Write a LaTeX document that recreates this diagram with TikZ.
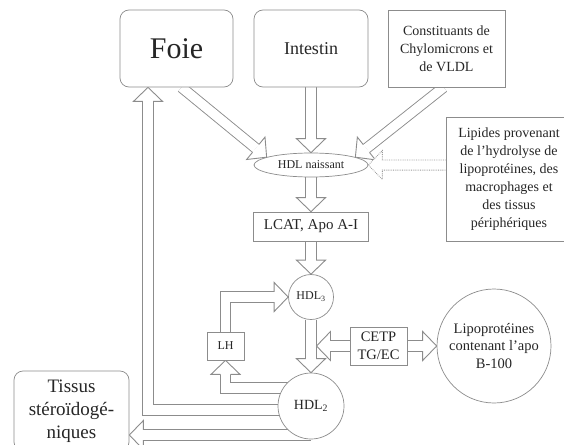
\documentclass[tikz,border=0pt]{standalone}
\usepackage{fontspec}
\setmainfont{Liberation Serif}
\usetikzlibrary{calc,positioning,shapes.geometric,backgrounds}

\tikzset{
  box/.style={draw=black!45,line width=0.7pt,fill=white,align=center,inner sep=0pt,text=black!85},
  rbox/.style={box,rounded corners=9pt},
  flowshaft/.style={draw=black!45,line width=0.9pt,double=white,double distance=9.3pt,line join=miter},
  flowline/.style={draw=black!45,line width=0.9pt,line join=miter},
  flowdots/.style={draw=black!40,line width=0.8pt,densely dotted,fill=white},
}
\newcommand{\fsz}[2]{\fontsize{#1}{#2}\selectfont}
% hollow block arrows: head from base #1 to tip #2
\newcommand{\flowhead}[2]{%
  \filldraw[flowline,fill=white] ($(#1)!5.1pt!90:(#2)$) -- ($(#1)!14.5pt!90:(#2)$) -- (#2)
    -- ($(#1)!14.5pt!-90:(#2)$) -- ($(#1)!5.1pt!-90:(#2)$);}
\newcommand{\flow}[2]{%
  \coordinate (fb) at ($(#2)!14pt!(#1)$);
  \draw[flowshaft] (#1) -- (fb);
  \flowhead{fb}{#2}}
\newcommand{\flowbent}[3]{%
  \coordinate (fb) at ($(#3)!14pt!(#2)$);
  \draw[flowshaft] (#1) -- (#2) -- (fb);
  \flowhead{fb}{#3}}

\begin{document}
\begin{tikzpicture}[x=1pt,y=-1pt]
  \useasboundingbox (0,0) rectangle (564,444);
  % sources
  \node[rbox,minimum width=113pt,minimum height=77pt,font=\fsz{30}{30}] (foie) at (176.5,48.5) {Foie};
  \node[rbox,minimum width=114pt,minimum height=77pt,font=\fsz{18}{20}] (intestin) at (311,48.5) {Intestin};
  \node[box,minimum width=117pt,minimum height=77pt,font=\fsz{14}{18}] (chylo) at (446.5,48.5) {Constituants de\\Chylomicrons et\\de VLDL};
  \node[box,minimum width=126pt,minimum height=124pt,font=\fsz{14}{18}] (lip) at (509,179) {Lipides provenant\\de l'hydrolyse de\\lipoprotéines, des\\macrophages et\\des tissus\\périphériques};
  % HDL chain
  \node[box,ellipse,minimum width=114pt,minimum height=24pt,font=\fsz{12}{14}] (hdln) at (311,165) {HDL naissant};
  \node[box,minimum width=115pt,minimum height=29pt,font=\fsz{15}{17}] (lcat) at (311,226.5) {LCAT, Apo A-I};
  \node[box,circle,minimum size=45pt,font=\fsz{12}{14}] (hdl3) at (311,297) {HDL\textsubscript{3}};
  \node[box,circle,minimum size=66pt,font=\fsz{14}{16}] (hdl2) at (311,406) {HDL\textsubscript{2}};
  \node[box,minimum width=37pt,minimum height=28pt,font=\fsz{12}{14}] (lh) at (225.5,346) {LH};
  \node[box,minimum width=57pt,minimum height=38pt,font=\fsz{14.5}{18}] (cetp) at (378.5,346) {CETP\\TG/EC};
  \node[box,circle,minimum size=114pt,font=\fsz{14.5}{17.5}] (lipo) at (494,346) {Lipoprotéines\\contenant l'apo\\B-100};
  \node[rbox,minimum width=115pt,minimum height=80pt,font=\fsz{19}{23}] (tissus) at (71.5,411) {Tissus\\stéroïdogé-\\niques};

  \begin{scope}[on background layer]
    \fill[white] (0,0) rectangle (564,444);
    \coordinate (foieOut) at ($(foie.south)+(5,0)$);
    \coordinate (foieIn) at ($(foie.south)+(-28.5,0)$);
    \coordinate (chyloOut) at ($(chylo.south)+(-3,0)$);
    \flow{foieOut}{hdln.170}
    \flow{intestin.south}{hdln.north}
    \flow{chyloOut}{hdln.10}
    % lipides, dotted
    \coordinate (lipIn) at (hdln.east -| lip.west);
    \filldraw[flowdots] ($(lipIn)+(0,-5.1)$) -- ($(hdln.east)+(14,-5.1)$) -- ($(hdln.east)+(14,-14.5)$) -- (hdln.east)
      -- ($(hdln.east)+(14,14.5)$) -- ($(hdln.east)+(14,5.1)$) -- ($(lipIn)+(0,5.1)$);
    \flow{hdln.south}{lcat.north}
    \flow{lcat.south}{hdl3.north}
    \flow{hdl3.south}{hdl2.north}
    % CETP exchange
    \coordinate (shaftR) at ($(hdl3.south |- cetp.west)+(5.5,0)$);
    \flow{cetp.west}{shaftR}
    \flow{cetp.east}{lipo.west}
    % LH loop
    \coordinate (lhTurn) at (lh.north |- hdl3.west);
    \flowbent{lh.north}{lhTurn}{hdl3.west}
    \coordinate (toLH) at ($(hdl2.center)+(0,-18)$);
    \coordinate (toLHturn) at (toLH -| lh.south);
    \flowbent{toLH}{toLHturn}{lh.south}
    % return to foie and tissus
    \coordinate (toFoie) at ($(hdl2.center)+(0,4)$);
    \coordinate (toFoieTurn) at (toFoie -| foieIn);
    \flowbent{toFoie}{toFoieTurn}{foieIn}
    \coordinate (toTissus) at ($(hdl2.center)+(0,29)$);
    \coordinate (tissusIn) at (toTissus -| tissus.east);
    \flow{toTissus}{tissusIn}
  \end{scope}
\end{tikzpicture}
\end{document}
